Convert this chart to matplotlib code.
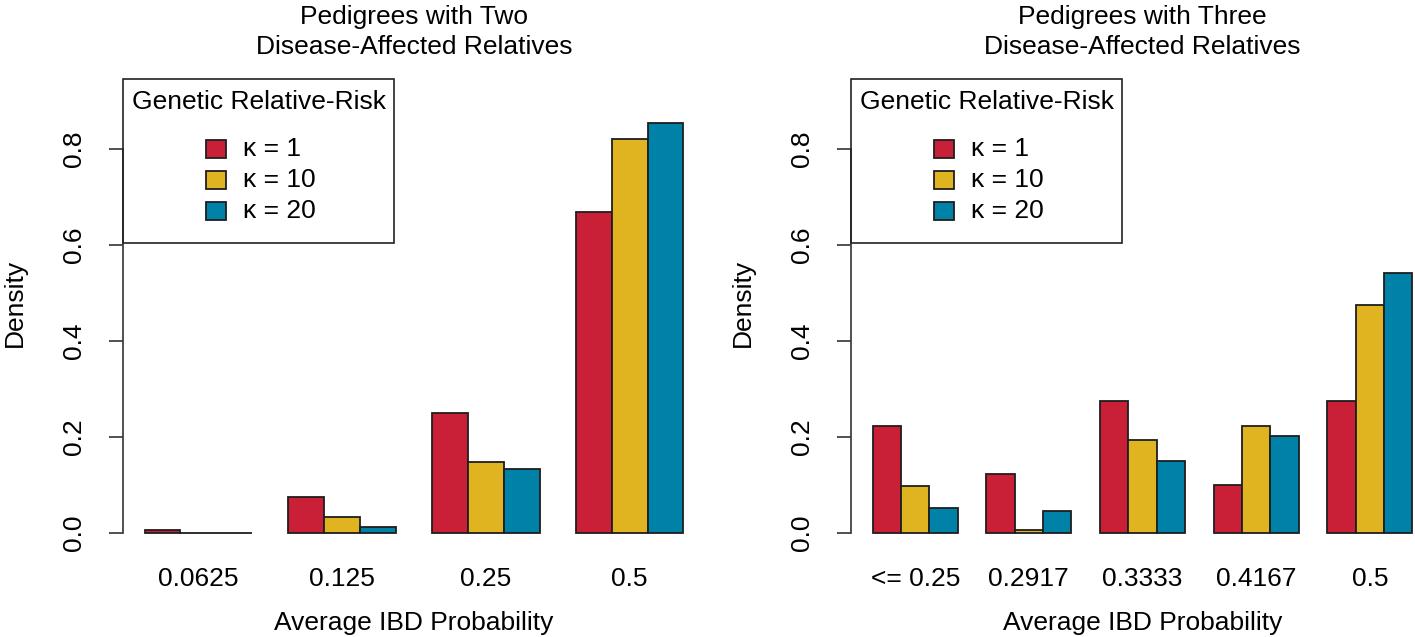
import numpy as np
import matplotlib
matplotlib.use("Agg")
import matplotlib.pyplot as plt
from matplotlib.patches import Rectangle

plt.rcParams['font.family'] = ['Liberation Sans', 'DejaVu Sans']
plt.rcParams['font.size'] = 19

# data
pair_cats = ['0.0625', '0.125', '0.25', '0.5']
pair_k1 = [0.006, 0.074, 0.250, 0.668]
pair_k10 = [0.0, 0.033, 0.148, 0.820]
pair_k20 = [0.0, 0.012, 0.134, 0.854]

trio_cats = ['<= 0.25', '0.2917', '0.3333', '0.4167', '0.5']
trio_k1 = [0.223, 0.122, 0.274, 0.100, 0.274]
trio_k10 = [0.097, 0.006, 0.194, 0.223, 0.474]
trio_k20 = [0.052, 0.045, 0.151, 0.203, 0.542]

kappa_labels = ['\u03ba = 1', '\u03ba = 10', '\u03ba = 20']
colors = ['#C91F37', '#E0B421', '#0081A7']
edge = '#1e1e1e'
W, H = 1415, 637

fig = plt.figure(figsize=(W / 100, H / 100), dpi=100)
ax1 = fig.add_axes([123 / W, 86.5 / H, 582 / W, 471.5 / H])
ax2 = fig.add_axes([851 / W, 86.5 / H, 583 / W, 471.5 / H])


def panel(ax, cats, series, title):
    n = len(cats)
    g = np.arange(n)
    for j, vals in enumerate(series):
        ax.bar(1.5 + 4 * g + j, vals, width=1, color=colors[j],
               edgecolor=edge, linewidth=1.3)
    ext = 0.04 * (4 * n - 1)
    ax.set_xlim(1 - ext, 4 * n + ext)
    ax.set_ylim(-0.0365, 0.9458)

    for s in ['top', 'right', 'bottom']:
        ax.spines[s].set_visible(False)
    ax.spines['left'].set_bounds(0, 0.8)
    ax.spines['left'].set_linewidth(1.2)
    ax.spines['left'].set_color('#333333')

    ax.set_yticks([0, 0.2, 0.4, 0.6, 0.8], ['0.0', '0.2', '0.4', '0.6', '0.8'])
    ax.tick_params(axis='y', length=10, width=1.2, color='#333333', pad=25,
                   labelrotation=90)
    for lbl in ax.get_yticklabels():
        lbl.set_ha('center')
        lbl.set_va('center')
    ax.set_xticks(2.5 + 4 * g, cats)
    ax.tick_params(axis='x', length=0, pad=12)

    wpx = ax.get_position().width * W
    ax.set_xlabel('Average IBD Probability', va='top')
    ax.xaxis.set_label_coords(0.5, -0.128)
    ax.set_ylabel('Density', va='center')
    ax.yaxis.set_label_coords(-108 / wpx, 0.525)

    ax.text(0.5, 1.0424, title, transform=ax.transAxes, ha='center',
            va='bottom', linespacing=1.3)

    # legend box drawn like R's legend(): title centred, keys below
    hpx = 471.5
    ax.add_patch(Rectangle((0, (550.5 - 243) / hpx), 271 / wpx, (243 - 79) / hpx,
                           transform=ax.transAxes, fill=False, lw=1.2,
                           edgecolor='#222222', clip_on=False, zorder=5))
    ax.text(135.5 / wpx, (550.5 - 102) / hpx, 'Genetic Relative-Risk',
            transform=ax.transAxes, ha='center', va='center')
    for j, (lab, ypx) in enumerate(zip(kappa_labels, [149, 180, 211])):
        yc = (550.5 - ypx) / hpx
        ax.add_patch(Rectangle((83 / wpx, yc - 9 / hpx), 20 / wpx, 18 / hpx,
                               transform=ax.transAxes, facecolor=colors[j],
                               edgecolor=edge, lw=1.3, clip_on=False, zorder=5))
        ax.text(120 / wpx, yc, lab, transform=ax.transAxes, ha='left',
                va='center')


panel(ax1, pair_cats, [pair_k1, pair_k10, pair_k20],
      'Pedigrees with Two\nDisease-Affected Relatives')
panel(ax2, trio_cats, [trio_k1, trio_k10, trio_k20],
      'Pedigrees with Three\nDisease-Affected Relatives')

fig.savefig('out.png', dpi=100)
